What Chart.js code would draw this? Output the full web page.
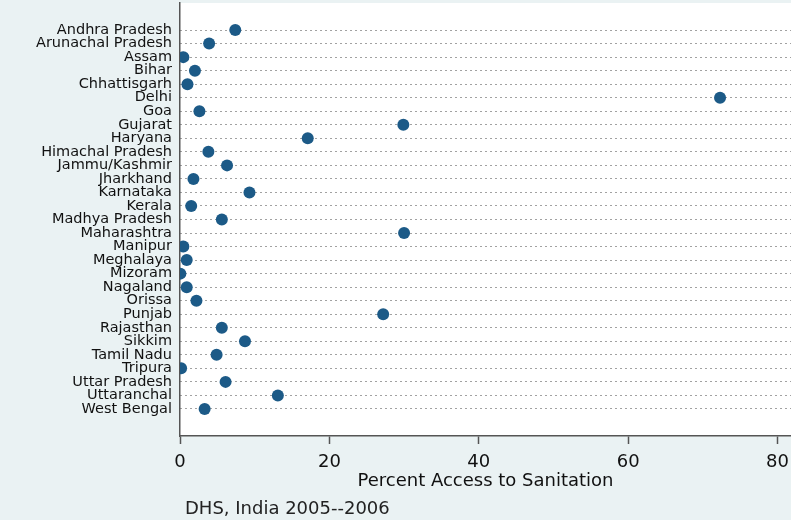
<!DOCTYPE html>
<html>
<head>
<meta charset="utf-8">
<script src="https://cdn.jsdelivr.net/npm/chart.js@4"></script>
<style>
  html, body { margin: 0; padding: 0; background: #eaf2f3; }
  canvas { display: block; }
</style>
</head>
<body>
<canvas id="myChart" width="791" height="520"></canvas>
<script>
// DHS India 2005-2006, percent access to sanitation by state

const states = ['Andhra Pradesh', 'Arunachal Pradesh', 'Assam', 'Bihar', 'Chhattisgarh', 'Delhi', 'Goa',
    'Gujarat', 'Haryana', 'Himachal Pradesh', 'Jammu/Kashmir', 'Jharkhand', 'Karnataka', 'Kerala',
    'Madhya Pradesh', 'Maharashtra', 'Manipur', 'Meghalaya', 'Mizoram', 'Nagaland', 'Orissa', 'Punjab',
    'Rajasthan', 'Sikkim', 'Tamil Nadu', 'Tripura', 'Uttar Pradesh', 'Uttaranchal', 'West Bengal'];

const access = [7.4, 3.9, 0.45, 2.0, 1.0, 72.3, 2.6,
    29.9, 17.1, 3.8, 6.3, 1.8, 9.3, 1.5,
    5.6, 30.0, 0.45, 0.9, 0.05, 0.9, 2.2, 27.2,
    5.6, 8.7, 4.9, 0.15, 6.1, 13.1, 3.3];

const xTicks = [0, 20, 40, 60, 80];
const xTitle = 'Percent Access to Sanitation';
const caption = 'DHS, India 2005--2006';

const points = access.map((v, i) => ({x: v, y: i}));   // one row per state

const bgPlugin = {
    id: 'bg',
    beforeDraw(chart) {
        const {ctx, chartArea: a} = chart;
        ctx.save();
        ctx.fillStyle = '#eaf2f3';
        ctx.fillRect(0, 0, chart.width, chart.height);
        ctx.fillStyle = '#ffffff';
        ctx.fillRect(a.left, a.top, a.right - a.left, a.bottom - a.top);
        ctx.restore();
    },
    afterDraw(chart) {
        const {ctx, chartArea: a} = chart;
        ctx.save();
        ctx.fillStyle = '#222';
        ctx.font = '18px "DejaVu Sans"';
        ctx.textBaseline = 'alphabetic';
        ctx.fillText(caption, a.left + 5, 514);
        ctx.restore();
    }
};

const ctx = document.getElementById('myChart');

const myChart = new Chart(ctx, {
    type: 'scatter',
    data: {
        datasets: [{
            data: points,
            backgroundColor: '#1c5a87',
            borderWidth: 0,
            pointRadius: 6,
            pointHoverRadius: 6
        }]
    },
    options: {
        responsive: false,
        animation: false,
        devicePixelRatio: 1,
        layout: {
            autoPadding: false,
            padding: {top: 3, right: 0, left: 0, bottom: 26}
        },
        scales: {
            x: {
                type: 'linear',
                min: 0,
                max: 81.8,
                afterBuildTicks: scale => { scale.ticks = xTicks.map(v => ({value: v})); },
                afterFit: scale => { scale.height = 58; scale.paddingLeft = 0; scale.paddingRight = 0; },
                grid: {
                    drawOnChartArea: false,
                    drawTicks: true,
                    tickLength: 8,
                    tickColor: '#555',
                    tickWidth: 1.5
                },
                border: {display: true, color: '#555', width: 1.5},
                ticks: {
                    color: '#111',
                    padding: 13,
                    maxRotation: 0,
                    font: {family: 'DejaVu Sans', size: 18, lineHeight: 0.54}
                },
                title: {
                    display: true,
                    text: xTitle,
                    color: '#111',
                    padding: {top: 0, bottom: 2},
                    font: {family: 'DejaVu Sans', size: 18}
                }
            },
            y: {
                type: 'linear',
                reverse: true,
                min: -2,
                max: 30,
                afterBuildTicks: scale => { scale.ticks = states.map((s, i) => ({value: i})); },
                afterFit: scale => { scale.width = 180; scale.paddingTop = 0; scale.paddingBottom = 0; },
                grid: {
                    drawOnChartArea: true,
                    drawTicks: false,
                    color: '#444',
                    lineWidth: 1
                },
                border: {display: true, color: '#555', width: 1.5, dash: [1, 4]},
                ticks: {
                    autoSkip: false,
                    color: '#111',
                    padding: 8,
                    font: {family: 'DejaVu Sans', size: 14.5},
                    callback: value => states[value]
                }
            }
        },
        plugins: {
            legend: {display: false},
            tooltip: {enabled: false}
        }
    },
    plugins: [bgPlugin]
});
</script>
</body>
</html>
